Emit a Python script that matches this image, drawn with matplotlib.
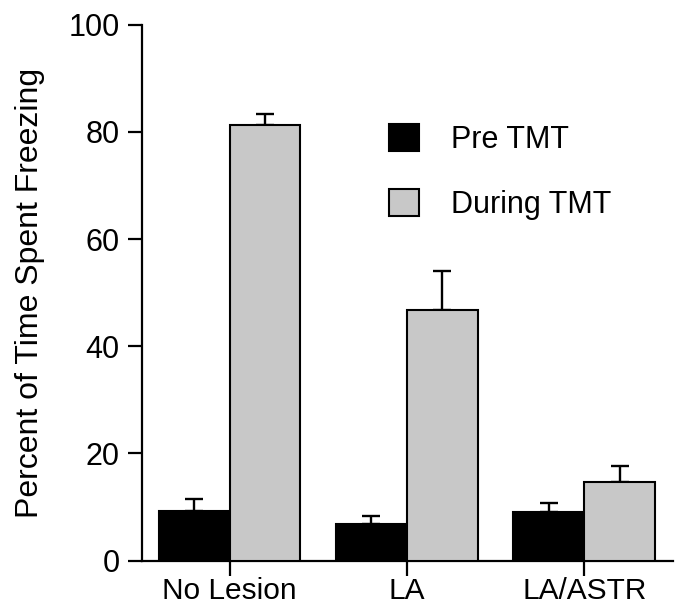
import numpy as np
import matplotlib
matplotlib.use('Agg')
import matplotlib.pyplot as plt
from matplotlib.patches import Patch

# Data
groups = ['No Lesion', 'LA', 'LA/ASTR']
pre_tmt = [9.3, 6.9, 9.1]
pre_err = [2.3, 1.4, 1.7]
during_tmt = [81.3, 46.7, 14.6]
during_err = [2.0, 7.4, 3.0]
series_labels = ['Pre TMT', 'During TMT']
yticks = [0, 20, 40, 60, 80, 100]


def main():
    plt.rcParams['font.family'] = ['Liberation Sans', 'DejaVu Sans']

    fig = plt.figure(figsize=(6.82, 6.08), dpi=100)
    ax = fig.add_axes([0.2078, 0.0778, 0.779, 0.8816])

    x = np.arange(len(groups))
    w = 0.4
    gray = '#c8c8c8'

    # bars
    ax.bar(x - w / 2, pre_tmt, w, color='black', edgecolor='black', linewidth=1.5, zorder=3)
    ax.bar(x + w / 2, during_tmt, w, color=gray, edgecolor='black', linewidth=1.5, zorder=3)

    # upper error bars only
    ax.errorbar(x - w / 2, pre_tmt, yerr=[np.zeros(3), pre_err], fmt='none',
                ecolor='black', elinewidth=1.7, capsize=6.5, capthick=1.7, zorder=2)
    ax.errorbar(x + w / 2, during_tmt, yerr=[np.zeros(3), during_err], fmt='none',
                ecolor='black', elinewidth=1.7, capsize=6.5, capthick=1.7, zorder=2)

    ax.set_xlim(-0.495, 2.5)
    ax.set_ylim(0, 100)
    ax.set_yticks(yticks)
    ax.set_xticks(x)
    ax.set_xticklabels(groups)

    ax.spines['top'].set_visible(False)
    ax.spines['right'].set_visible(False)
    ax.spines['left'].set_linewidth(1.6)
    ax.spines['bottom'].set_linewidth(1.6)
    ax.tick_params(axis='y', direction='out', length=10, width=1.6, pad=6, labelsize=22)
    ax.tick_params(axis='x', direction='out', length=11, width=1.6, pad=1, labelsize=21.5)

    ax.set_ylabel('Percent of Time Spent Freezing', fontsize=23, labelpad=17)

    # legend
    handles = [Patch(facecolor='black', edgecolor='black', linewidth=1.5),
               Patch(facecolor=gray, edgecolor='black', linewidth=1.5)]
    ax.legend(handles, series_labels, loc='upper left', bbox_to_anchor=(0.465, 0.815),
              frameon=False, fontsize=22, handlelength=0.98, handleheight=0.98,
              handletextpad=1.05, labelspacing=1.12, borderpad=0, borderaxespad=0)

    plt.savefig('out.png', dpi=100)


if __name__ == '__main__':
    main()
